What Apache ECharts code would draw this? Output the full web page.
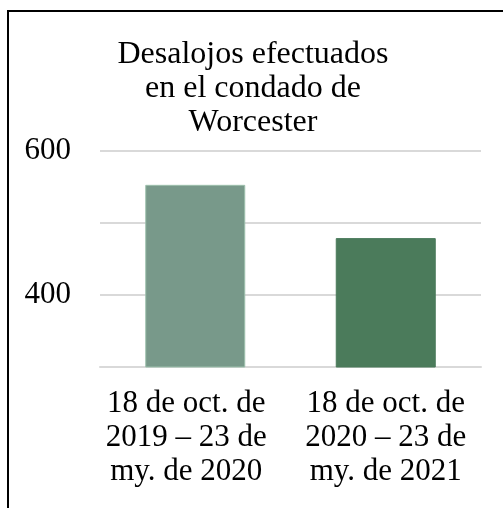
<!DOCTYPE html>
<html>
<head>
<meta charset="utf-8">
<script src="https://cdn.jsdelivr.net/npm/echarts@6/dist/echarts.min.js"></script>
<style>
html,body{margin:0;padding:0;background:#fff;}
#chart{width:503px;height:508px;}
</style>
</head>
<body>
<div id="chart"></div>
<script>
const titleText = 'Desalojos efectuados\nen el condado de\nWorcester';
const categories = ['18 de oct. de\n2019 – 23 de\nmy. de 2020', '18 de oct. de\n2020 – 23 de\nmy. de 2021'];
const values = [553, 479];
const barColors = ['#78998a', '#4b7b5b'];
const barBorders = ['#9dc0ad', '#4b7b5b'];
const yTickLabels = [400, 600];
const yMin = 300, yMax = 600, yStep = 100;

const font = 'Liberation Serif';
const labelPads = [[0, 18, 0, 0], [0, 0, 0, 0]];
const chart = echarts.init(document.getElementById('chart'), null, {renderer: 'canvas'});
chart.setOption({
  animation: false,
  backgroundColor: '#fff',
  title: {
    text: titleText,
    left: 248,
    textAlign: 'center',
    top: 33,
    textStyle: {fontFamily: font, fontWeight: 'normal', fontSize: 32, lineHeight: 34, color: '#000'}
  },
  graphic: [{
    type: 'polyline',
    shape: {points: [[8, 520], [8, 11], [520, 11]]},
    style: {stroke: '#000', lineWidth: 2, fill: null}
  }],
  grid: {left: 100, right: 22, top: 151, bottom: 141},
  xAxis: {
    type: 'category',
    data: categories.map((c, i) => ({value: c, textStyle: {padding: labelPads[i]}})),
    axisLine: {show: true, lineStyle: {color: '#d9d9d9', width: 2}},
    axisTick: {show: false},
    axisLabel: {fontFamily: font, fontSize: 31, lineHeight: 34, color: '#000', margin: 20, interval: 0}
  },
  yAxis: {
    type: 'value',
    min: yMin, max: yMax, interval: yStep,
    axisLine: {show: false},
    axisTick: {show: false},
    splitLine: {lineStyle: {color: '#d9d9d9', width: 2}},
    axisLabel: {
      fontFamily: font, fontSize: 31, color: '#000', margin: 29,
      formatter: v => yTickLabels.includes(v) ? String(v) : ''
    }
  },
  series: [{
    type: 'bar',
    barWidth: 100,
    data: values.map((v, i) => ({value: v, itemStyle: {color: barColors[i], borderColor: barBorders[i], borderWidth: 1}}))
  }]
});
</script>
</body>
</html>
